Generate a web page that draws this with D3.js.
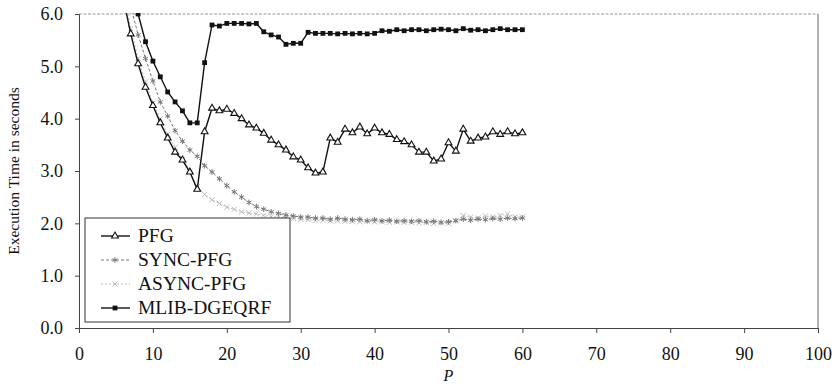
<!DOCTYPE html>
<html>
<head>
<meta charset="utf-8">
<script src="https://cdn.jsdelivr.net/npm/d3@7/dist/d3.min.js"></script>
<style>
  body { margin: 0; background: #fff; }
  text { font-family: "Liberation Serif", "DejaVu Serif", serif; fill: #111; }
</style>
</head>
<body>
<svg id="chart" width="839" height="386"></svg>
<script>
// P values (number of processors), one entry per point
var pValues = [6, 7, 8, 9, 10, 11, 12, 13, 14, 15, 16, 17, 18, 19, 20, 21, 22, 23, 24, 25,
  26, 27, 28, 29, 30, 31, 32, 33, 34, 35, 36, 37, 38, 39, 40, 41, 42, 43, 44, 45,
  46, 47, 48, 49, 50, 51, 52, 53, 54, 55, 56, 57, 58, 59, 60];

// execution time in seconds (null = not plotted)
var pfg = [6.3, 5.62, 5.05, 4.6, 4.25, 3.92, 3.63, 3.36, 3.21, 2.98, 2.65, 3.75, 4.2, 4.15, 4.18, 4.1, 4.0, 3.88, 3.82, 3.72,
  3.59, 3.5, 3.4, 3.27, 3.21, 3.06, 2.96, 2.98, 3.63, 3.55, 3.8, 3.73, 3.84, 3.71, 3.82, 3.73, 3.7, 3.6, 3.56, 3.5,
  3.36, 3.36, 3.19, 3.23, 3.54, 3.38, 3.8, 3.57, 3.63, 3.65, 3.75, 3.7, 3.75, 3.71, 3.73];
var syncPfg = [null, 6.15, 5.6, 5.15, 4.72, 4.32, 4.05, 3.77, 3.57, 3.4, 3.28, 3.1, 2.98, 2.85, 2.72, 2.6, 2.5, 2.4, 2.32, 2.27,
  2.22, 2.19, 2.16, 2.14, 2.12, 2.12, 2.1, 2.1, 2.08, 2.1, 2.08, 2.07, 2.08, 2.05, 2.07, 2.05, 2.06, 2.04, 2.05, 2.04,
  2.05, 2.03, 2.04, 2.02, 2.03, 2.05, 2.08, 2.06, 2.08, 2.07, 2.09, 2.08, 2.1, 2.09, 2.1];
var asyncPfg = [6.45, 5.72, 5.15, 4.7, 4.3, 4.0, 3.7, 3.45, 3.22, 2.98, 2.7, 2.55, 2.45, 2.38, 2.31, 2.27, 2.22, 2.2, 2.18, 2.15,
  2.13, 2.12, 2.1, 2.09, 2.08, 2.07, 2.06, 2.06, 2.05, 2.05, 2.04, 2.04, 2.03, 2.04, 2.03, 2.03, 2.02, 2.03, 2.02, 2.02,
  2.01, 2.02, 2.0, 2.01, 2.0, 2.05, 2.15, 2.12, 2.1, 2.14, 2.12, 2.15, 2.18, 2.12, 2.12];
var mlib = [null, 6.9, 6.0, 5.47, 5.1, 4.8, 4.51, 4.32, 4.15, 3.92, 3.92, 5.07, 5.79, 5.77, 5.82, 5.82, 5.82, 5.81, 5.82, 5.66,
  5.6, 5.56, 5.42, 5.44, 5.44, 5.65, 5.63, 5.63, 5.63, 5.62, 5.63, 5.62, 5.63, 5.62, 5.63, 5.68, 5.67, 5.7, 5.68, 5.7,
  5.7, 5.68, 5.7, 5.71, 5.7, 5.68, 5.72, 5.69, 5.7, 5.68, 5.7, 5.72, 5.7, 5.7, 5.7];

var seriesNames = ["PFG", "SYNC-PFG", "ASYNC-PFG", "MLIB-DGEQRF"];
var xTicks = [0, 10, 20, 30, 40, 50, 60, 70, 80, 90, 100];
var yTicks = [0, 1, 2, 3, 4, 5, 6];

var svg = d3.select("#chart");
var plotLeft = 79, plotRight = 818, plotTop = 14, plotBottom = 328;

var xScale = d3.scaleLinear().domain([0, 100]).range([plotLeft, plotRight]);
var yScale = d3.scaleLinear().domain([0, 6]).range([plotBottom, plotTop]);

// plot frame: dotted top, thin right side
svg.append("line").attr("x1", plotLeft).attr("x2", plotRight).attr("y1", plotTop).attr("y2", plotTop)
    .attr("stroke", "#999").attr("stroke-dasharray", "3,1.5");
svg.append("line").attr("x1", plotRight).attr("x2", plotRight).attr("y1", plotTop).attr("y2", plotBottom)
    .attr("stroke", "#666");

// axes
var xAxis = svg.append("g").attr("transform", "translate(0," + plotBottom + ")")
    .call(d3.axisBottom(xScale).tickValues(xTicks).tickSize(5).tickPadding(14).tickFormat(d3.format("d")));
var yAxis = svg.append("g").attr("transform", "translate(" + plotLeft + ",0)")
    .call(d3.axisLeft(yScale).tickValues(yTicks).tickSize(4).tickPadding(12).tickFormat(d3.format(".1f")));
[xAxis, yAxis].forEach(function (ax) {
    ax.select(".domain").attr("stroke", "#444");
    ax.selectAll(".tick line").attr("stroke", "#444");
    ax.selectAll("text").attr("font-size", 18).attr("fill", "#111")
        .attr("font-family", "Liberation Serif");
});

svg.append("text").attr("x", (plotLeft + plotRight) / 2).attr("y", 381)
    .attr("text-anchor", "middle").attr("font-size", 16).attr("font-style", "italic").text("P");
svg.append("text").attr("transform", "translate(19," + ((plotTop + plotBottom) / 2) + ") rotate(-90)")
    .attr("text-anchor", "middle").attr("font-size", 15.5).text("Execution Time in seconds");

// clip lines to the plot area
svg.append("clipPath").attr("id", "plotClip").append("rect")
    .attr("x", plotLeft).attr("y", plotTop - 1).attr("width", plotRight - plotLeft).attr("height", plotBottom - plotTop + 1);

var styles = {
    "PFG": { color: "#111", width: 1.4, dash: null, marker: "triangle" },
    "SYNC-PFG": { color: "#777", width: 1, dash: "3,2", marker: "star" },
    "ASYNC-PFG": { color: "#bbb", width: 1, dash: "2,2", marker: "cross" },
    "MLIB-DGEQRF": { color: "#111", width: 1.4, dash: null, marker: "square" }
};

function drawMarker(g, type, color) {
    if (type == "triangle") {
        g.append("path").attr("d", d3.symbol().type(d3.symbolTriangle).size(20))
            .attr("fill", "#fff").attr("stroke", color).attr("stroke-width", 1.1);
    } else if (type == "square") {
        g.append("rect").attr("x", -2.4).attr("y", -2.4).attr("width", 4.8).attr("height", 4.8)
            .attr("fill", color);
    } else if (type == "star") {
        g.append("path").attr("d", d3.symbol().type(d3.symbolAsterisk).size(22))
            .attr("fill", "none").attr("stroke", color).attr("stroke-width", 1);
    } else {
        g.append("path").attr("d", d3.symbol().type(d3.symbolTimes).size(20))
            .attr("fill", "none").attr("stroke", color).attr("stroke-width", 1);
    }
}

var allSeries = [pfg, syncPfg, asyncPfg, mlib];
var plot = svg.append("g").attr("clip-path", "url(#plotClip)");

// draw light series first so the dark ones sit on top
[2, 1, 3, 0].forEach(function (i) {
    var name = seriesNames[i];
    var st = styles[name];
    var points = pValues.map(function (p, j) { return { p: p, v: allSeries[i][j] }; })
        .filter(function (d) { return d.v != null; });
    var line = d3.line().x(function (d) { return xScale(d.p); }).y(function (d) { return yScale(d.v); });
    plot.append("path").datum(points).attr("d", line)
        .attr("fill", "none").attr("stroke", st.color).attr("stroke-width", st.width)
        .attr("stroke-dasharray", st.dash);
    plot.selectAll(".m" + i).data(points.filter(function (d) { return d.v <= 6.02; }))
        .enter().append("g").attr("class", "m" + i)
        .attr("transform", function (d) { return "translate(" + xScale(d.p) + "," + yScale(d.v) + ")"; })
        .each(function () { drawMarker(d3.select(this), st.marker, st.color); });
});

// legend
var legend = svg.append("g");
legend.append("rect").attr("x", 85).attr("y", 218).attr("width", 205).attr("height", 104)
    .attr("fill", "#fff").attr("stroke", "#333").attr("stroke-width", 1);
seriesNames.forEach(function (name, i) {
    var st = styles[name];
    var y = 236 + i * 24;
    legend.append("line").attr("x1", 101).attr("x2", 130).attr("y1", y).attr("y2", y)
        .attr("stroke", st.color).attr("stroke-width", st.width).attr("stroke-dasharray", st.dash);
    drawMarker(legend.append("g").attr("transform", "translate(115," + y + ")"), st.marker, st.color);
    legend.append("text").attr("x", 138).attr("y", y + 6).attr("font-size", 19.5).text(name);
});
</script>
</body>
</html>
